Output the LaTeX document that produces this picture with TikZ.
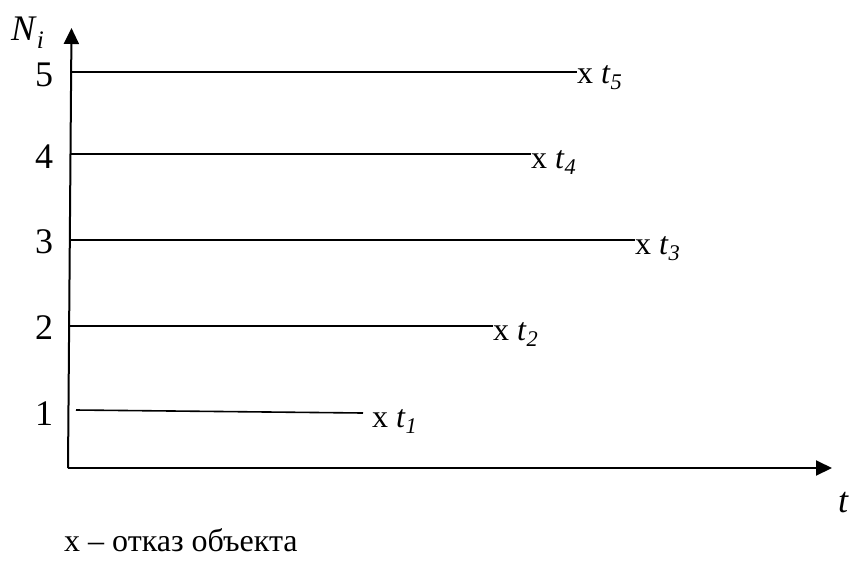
\documentclass[tikz,border=0pt]{standalone}
\usepackage{fontspec}
\setmainfont{Liberation Serif}
\usetikzlibrary{arrows.meta}
\tikzset{
  ax/.style={line width=2pt,-{Triangle[length=16pt,width=15pt]}},
  hl/.style={line width=1.6pt},
  lbl/.style={font=\fontsize{36}{38}\selectfont, inner sep=0pt},
  fail/.style={font=\fontsize{32}{34}\selectfont, inner sep=0pt, anchor=base west}
}
\newcommand{\tk}[1]{x \textit{t}\textsubscript{\textit{#1}}}
\begin{document}
\begin{tikzpicture}[x=1pt,y=-1pt]
\useasboundingbox (0,0) rectangle (851,563);
\coordinate (O) at (68,468);
\coordinate (Ytop) at (71.5,28);
\coordinate (Xend) at (832,468);
\draw[ax] (O) -- (Ytop);
\draw[ax] (O) -- (Xend);
\node[lbl, anchor=base west] (Ni) at (11,40) {\textit{N}\textsubscript{\textit{i}}};
\node[lbl, anchor=base west] (tl) at (838,512) {\textit{t}};
% level numbers
\node[lbl] (n5) at (44,75) {5};
\node[lbl] (n4) at (44,157) {4};
\node[lbl] (n3) at (44,242) {3};
\node[lbl] (n2) at (44,328) {2};
\node[lbl] (n1) at (44,414) {1};
% lines start at the axis
\coordinate (s5) at (71.5,72);
\coordinate (s4) at (70.8,154);
\coordinate (s3) at (70.2,240);
\coordinate (s2) at (69.5,326);
\coordinate (s1) at (76,410);
% failure marks
\node[fail] (f5) at (577,83) {\tk{5}};
\node[fail] (f4) at (531,168) {\tk{4}};
\node[fail] (f3) at (635,254) {\tk{3}};
\node[fail] (f2) at (493,340) {\tk{2}};
\node[fail] (f1) at (372,427) {\tk{1}};
\coordinate (e1) at (363,413);
\draw[hl] (s5) -- (f5.west |- s5);
\draw[hl] (s4) -- (f4.west |- s4);
\draw[hl] (s3) -- (f3.west |- s3);
\draw[hl] (s2) -- (f2.west |- s2);
\draw[hl] (s1) -- (e1);
\node[font=\fontsize{32}{34}\selectfont, inner sep=0pt, anchor=base west] (cap) at (64,551) {х – отказ объекта};
\end{tikzpicture}
\end{document}
